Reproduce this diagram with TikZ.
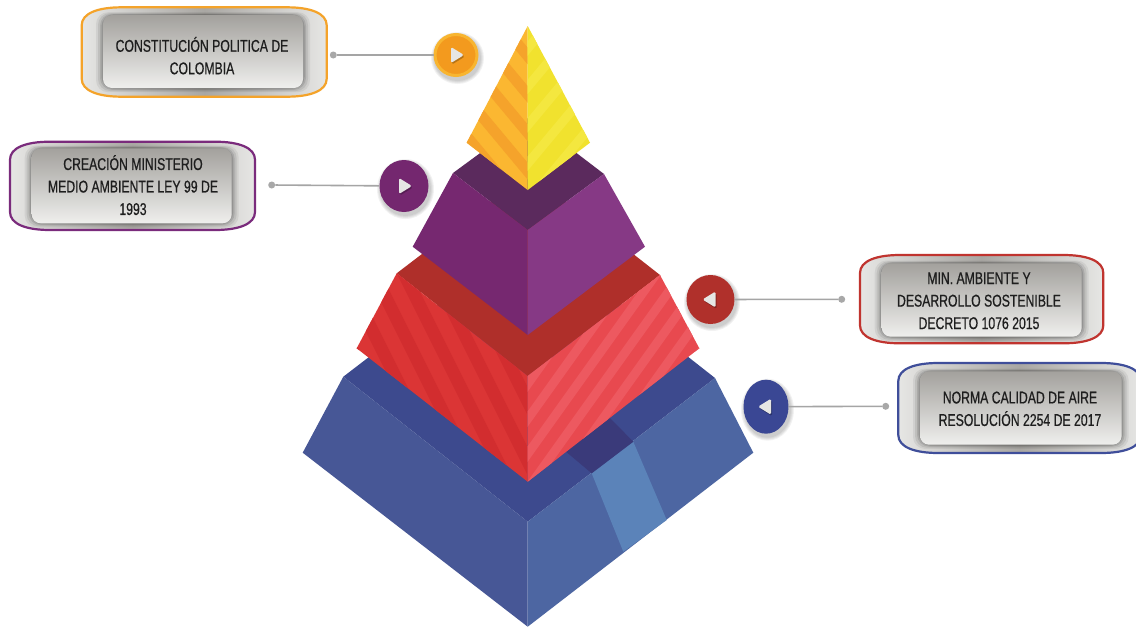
\documentclass[tikz,border=0pt]{standalone}
\usepackage{fontspec}
\setmainfont{Liberation Sans}[FakeStretch=0.72,FakeBold=0.6]
\usetikzlibrary{shapes.geometric}
\definecolor{bTop}{HTML}{3D4A8E}
\definecolor{bLeft}{HTML}{475796}
\definecolor{bRight}{HTML}{4D66A2}
\definecolor{bLight}{HTML}{5B83B9}
\definecolor{bNavy}{HTML}{3A3A7A}
\definecolor{rTop}{HTML}{AF2F2A}
\definecolor{rLeft}{HTML}{DB3535}
\definecolor{rLeftS}{HTML}{D22D2F}
\definecolor{rRight}{HTML}{E8494F}
\definecolor{rRightS}{HTML}{ED5960}
\definecolor{pTop}{HTML}{5B2A5D}
\definecolor{pLeft}{HTML}{762870}
\definecolor{pRight}{HTML}{863985}
\definecolor{yLeft}{HTML}{FBB731}
\definecolor{yLeftS}{HTML}{F5A32B}
\definecolor{yRight}{HTML}{F1E22E}
\definecolor{yRightS}{HTML}{F4E73F}
\definecolor{orangeC}{HTML}{F39A1E}
\definecolor{orangeR}{HTML}{F8B530}
\definecolor{purpleC}{HTML}{74276F}
\definecolor{redC}{HTML}{B0302B}
\definecolor{blueC}{HTML}{3A4794}
\definecolor{boxO}{HTML}{F4A32A}
\definecolor{boxP}{HTML}{7A2B7C}
\definecolor{boxR}{HTML}{C0342F}
\definecolor{boxB}{HTML}{3F4E9A}
\definecolor{lineG}{HTML}{A5A5A5}
\definecolor{dotG}{HTML}{A8A8A8}
\definecolor{triC}{HTML}{E6E6E4}
\definecolor{txt}{HTML}{1E1E1E}
\definecolor{outerL}{HTML}{E6E6E4}
\definecolor{outerM}{HTML}{A9A7A3}
\definecolor{innerT}{HTML}{A3A19D}
\definecolor{innerB}{HTML}{EFEFED}
% x0 y0 x1 y1 colour ix0 iy0 ix1 iy1
\newcommand{\cushionbox}[9]{%
  \draw[draw=#5, line width=2.2pt, left color=outerL, right color=outerL, middle color=outerM]
    (#1,{#2+18}) .. controls (#1,{#2+6}) and ({#1+16},#2) .. ({#1+40},#2)
    -- ({#3-40},#2) .. controls ({#3-16},#2) and (#3,{#2+6}) .. (#3,{#2+18})
    -- (#3,{#4-18}) .. controls (#3,{#4-6}) and ({#3-16},#4) .. ({#3-40},#4)
    -- ({#1+40},#4) .. controls ({#1+16},#4) and (#1,{#4-6}) .. (#1,{#4-18}) -- cycle;
  \foreach \r/\o in {7/0.06,5/0.08,3/0.10,1.5/0.12}
    \fill[black, opacity=\o, rounded corners=12pt] ({#6-\r},{#7-0.4*\r}) rectangle ({#8+\r},{#9+0.6*\r});
  \shade[top color=innerT, bottom color=innerB, rounded corners=9pt] (#6,#7) rectangle (#8,#9);
}
\newcommand{\circshadow}[4]{%
  \foreach \r in {4,3,2,1}
    \fill[black, opacity=0.05] ({#1+1.5},{#2+3}) ellipse ({#3+\r} and {#4+\r});
}
\begin{document}
\begin{tikzpicture}[x=1pt,y=-1pt,
  conn/.style={draw=lineG, line width=1.6pt},
  dotn/.style={circle, fill=dotG, minimum size=7pt, inner sep=0pt},
  circ/.style={ellipse, inner sep=0pt},
  boxtext/.style={align=center, text=txt, inner sep=0pt, font=\fontsize{17}{22.5}\selectfont},
  tri/.style={fill=triC, rounded corners=1.5pt},
  trish/.style={fill=black, opacity=0.25, rounded corners=1.5pt}]
\useasboundingbox[fill=white] (0,0) rectangle (1136,627);

% ---------------- pyramid: blue layer
\fill[bTop] (343.3,376.7) -- (530.6,233) -- (715,378) -- (527.7,521.7) -- cycle;
\fill[bLeft] (343.3,376.7) -- (527.7,521.7) -- (527.7,626.7) -- (302.7,452.7) -- cycle;
\fill[bRight] (527.7,521.7) -- (715,378) -- (753.3,452.7) -- (527.7,626.7) -- cycle;
\fill[bLight] (591.7,473.3) -- (633.3,441.7) -- (666.7,520) -- (623.3,551.7) -- cycle;
\fill[bNavy] (564,450) -- (610,418) -- (633.3,441.7) -- (591.7,473.3) -- cycle;

% ---------------- red layer
\fill[rTop] (396.7,273.3) -- (529,172.3) -- (660,275) -- (527.7,376) -- cycle;
\begin{scope}
  \clip (396.7,273.3) -- (527.7,376) -- (527.7,481.7) -- (356.7,348.3) -- cycle;
  \fill[rLeft] (350,260) rectangle (530,485);
  \foreach \i in {0,...,13}
    \fill[rLeftS] ({180+\i*30},200) -- ++(14,0) -- ++(150,300) -- ++(-14,0) -- cycle;
\end{scope}
\begin{scope}
  \clip (527.7,376) -- (660,275) -- (699.3,348.3) -- (527.7,481.7) -- cycle;
  \fill[rRight] (525,270) rectangle (705,485);
  \foreach \i in {0,...,16}
    \fill[rRightS] ({300+\i*25},520) -- ++(11,0) -- ++(250,-350) -- ++(-11,0) -- cycle;
\end{scope}

% ---------------- purple layer
\fill[pTop] (453,173) -- (529.3,117) -- (604,174) -- (527.7,230) -- cycle;
\fill[pLeft] (453,173) -- (527.7,230) -- (527.7,335) -- (412.7,246.7) -- cycle;
\fill[pRight] (527.7,230) -- (604,174) -- (645,246.7) -- (527.7,335) -- cycle;

% ---------------- yellow top
\begin{scope}
  \clip (527.7,26) -- (466.7,142.7) -- (527.7,190) -- cycle;
  \fill[yLeft] (460,20) rectangle (530,195);
  \foreach \i in {0,...,10}
    \fill[yLeftS] ({250+\i*32},0) -- ++(14,0) -- ++(200,240) -- ++(-14,0) -- cycle;
\end{scope}
\begin{scope}
  \clip (527.7,26) -- (590,142.7) -- (527.7,190) -- cycle;
  \fill[yRight] (525,20) rectangle (595,195);
  \foreach \i in {0,...,10}
    \fill[yRightS] ({280+\i*32},300) -- ++(12,0) -- ++(250,-300) -- ++(-12,0) -- cycle;
\end{scope}

% ---------------- boxes
\cushionbox{81.7}{7.3}{326.7}{96.7}{boxO}{103}{15}{303}{88}
\cushionbox{10}{141.7}{255}{230}{boxP}{31.7}{148.3}{231.7}{223.3}
\cushionbox{860}{255}{1103.3}{343.3}{boxR}{881.7}{263.3}{1081.7}{336.7}
\cushionbox{898.3}{363}{1141}{453}{boxB}{920}{371.3}{1121.7}{444.7}

\node[boxtext] (t1) at (202,55.7) {CONSTITUCIÓN POLITICA DE\\COLOMBIA};
\node[boxtext] (t2) at (133,185.2) {CREACIÓN MINISTERIO\\MEDIO AMBIENTE LEY 99 DE\\1993};
\node[boxtext] (t3) at (979,300.8) {MIN. AMBIENTE Y\\DESARROLLO SOSTENIBLE\\DECRETO 1076 2015};
\node[boxtext] (t4) at (1020,408.8) {NORMA CALIDAD DE AIRE\\RESOLUCIÓN 2254 DE 2017};

% ---------------- circles
\circshadow{456}{55}{22.5}{22}
\circshadow{404}{186}{24.5}{26}
\circshadow{710.5}{299.5}{24}{24.5}
\circshadow{766}{406.7}{22.5}{27}
\node[circ, fill=orangeC, draw=orangeR, line width=3pt, minimum width=42pt, minimum height=41pt] (c1) at (456,55) {};
\node[circ, fill=purpleC, minimum width=49pt, minimum height=52pt] (c2) at (404,186) {};
\node[circ, fill=redC, minimum width=48pt, minimum height=49pt] (c3) at (710.5,299.5) {};
\node[circ, fill=blueC, minimum width=45pt, minimum height=54pt] (c4) at (766,406.7) {};

% play marks
\fill[trish] ([shift={(-4,-6.5)}]c1.center) -- ([shift={(9,1.5)}]c1.center) -- ([shift={(-4,9.5)}]c1.center) -- cycle;
\fill[tri] ([shift={(-5,-8)}]c1.center) -- ([shift={(8,0)}]c1.center) -- ([shift={(-5,8)}]c1.center) -- cycle;
\fill[trish] ([shift={(-4,-6.5)}]c2.center) -- ([shift={(9,1.5)}]c2.center) -- ([shift={(-4,9.5)}]c2.center) -- cycle;
\fill[tri] ([shift={(-5,-8)}]c2.center) -- ([shift={(8,0)}]c2.center) -- ([shift={(-5,8)}]c2.center) -- cycle;
\fill[trish] ([shift={(6,-6.5)}]c3.center) -- ([shift={(-7,1.5)}]c3.center) -- ([shift={(6,9.5)}]c3.center) -- cycle;
\fill[tri] ([shift={(5,-8)}]c3.center) -- ([shift={(-8,0)}]c3.center) -- ([shift={(5,8)}]c3.center) -- cycle;
\fill[trish] ([shift={(6,-6.5)}]c4.center) -- ([shift={(-7,1.5)}]c4.center) -- ([shift={(6,9.5)}]c4.center) -- cycle;
\fill[tri] ([shift={(5,-8)}]c4.center) -- ([shift={(-8,0)}]c4.center) -- ([shift={(5,8)}]c4.center) -- cycle;

% ---------------- connectors
\node[dotn] (d1) at (333.3,55) {};
\node[dotn] (d2) at (271.7,185) {};
\node[dotn] (d3) at (841.7,299.3) {};
\node[dotn] (d4) at (885.7,406.3) {};
\draw[conn] (d1) -- (c1);
\draw[conn] (d2) -- (c2);
\draw[conn] (d3) -- (c3);
\draw[conn] (d4) -- (c4);
\end{tikzpicture}
\end{document}
